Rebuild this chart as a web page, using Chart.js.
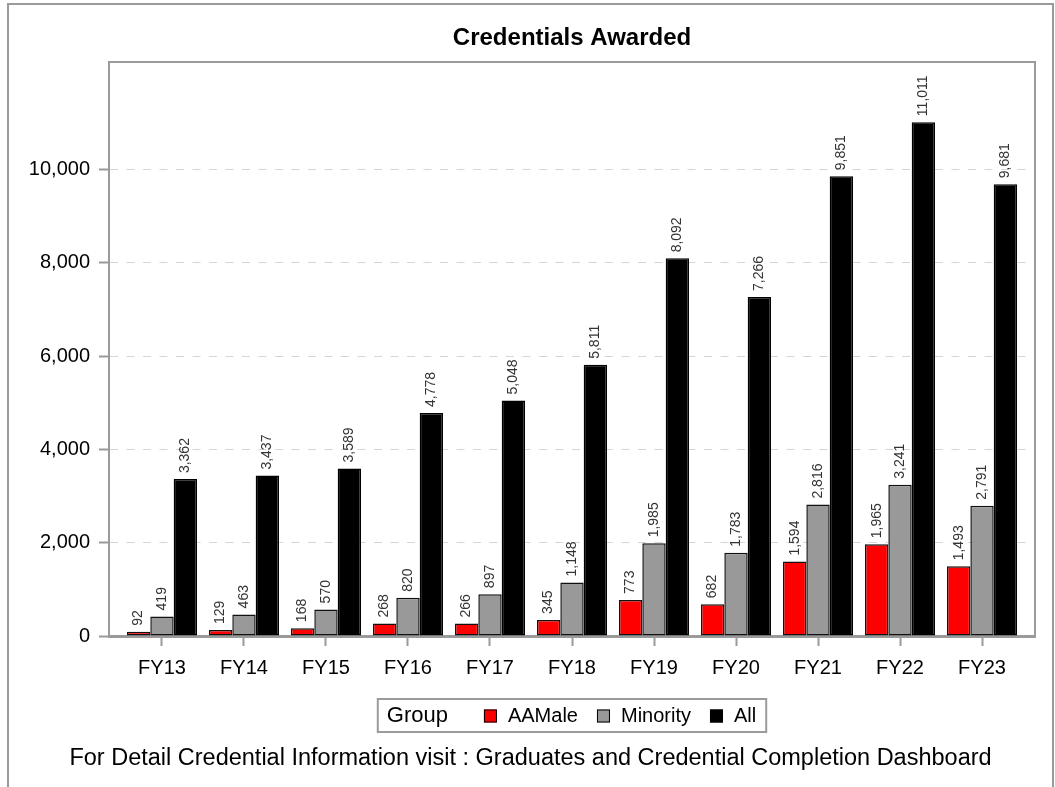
<!DOCTYPE html>
<html lang="en">
<head>
    <meta charset="UTF-8">
    <title>Credentials Awarded</title>
    <script src="https://cdn.jsdelivr.net/npm/chart.js@4.4.1/dist/chart.umd.min.js"></script>
    <style>
        body {
            margin: 0;
            padding: 0;
            background: #ffffff;
        }

        .chart-container {
            position: relative;
            width: 1055px;
            height: 787px;
        }
    </style>
</head>
<body>
<div class="chart-container">
    <canvas id="credentialsChart"></canvas>
</div>

<script>
    const years = ['FY13', 'FY14', 'FY15', 'FY16', 'FY17', 'FY18', 'FY19', 'FY20', 'FY21', 'FY22', 'FY23'];
    const aaMale = [92, 129, 168, 268, 266, 345, 773, 682, 1594, 1965, 1493];
    const minority = [419, 463, 570, 820, 897, 1148, 1985, 1783, 2816, 3241, 2791];
    const allStudents = [3362, 3437, 3589, 4778, 5048, 5811, 8092, 7266, 9851, 11011, 9681];
    const yTickValues = [0, 2000, 4000, 6000, 8000, 10000];

    const chartTitle = 'Credentials Awarded';
    const legendTitle = 'Group';
    const footnote = 'For Detail Credential Information visit : Graduates and Credential Completion Dashboard';

    const FONT = "'Liberation Sans', Arial, sans-serif";
    const FRAME = '#9a9a9a';

    const fmt = v => v.toLocaleString('en-US');
    const toPoints = arr => arr.map((v, i) => ({ x: i, y: v }));

    // white page, outer border, plot frame and title
    const framePlugin = {
        id: 'frame',
        beforeDraw(chart) {
            const { ctx, width, height, chartArea } = chart;
            ctx.save();
            ctx.fillStyle = '#ffffff';
            ctx.fillRect(0, 0, width, height);
            ctx.strokeStyle = FRAME;
            ctx.lineWidth = 2;
            ctx.strokeRect(8, 4, width - 10, height + 20);

            ctx.fillStyle = '#000';
            ctx.font = 'bold 24px ' + FONT;
            ctx.textAlign = 'center';
            ctx.textBaseline = 'middle';
            ctx.fillText(chartTitle, (chartArea.left + chartArea.right) / 2, 38);
            ctx.restore();
        },
        beforeDatasetsDraw(chart) {
            const { ctx, chartArea: a } = chart;
            ctx.save();
            ctx.strokeStyle = FRAME;
            ctx.lineWidth = 2;
            ctx.beginPath();
            ctx.moveTo(a.left, a.top);
            ctx.lineTo(a.right, a.top);
            ctx.lineTo(a.right, a.bottom);
            ctx.stroke();
            ctx.restore();
        }
    };

    // rotated value labels above each bar
    const valueLabels = {
        id: 'valueLabels',
        afterDatasetsDraw(chart) {
            const { ctx } = chart;
            ctx.save();
            ctx.fillStyle = '#333';
            ctx.font = '14px ' + FONT;
            ctx.textAlign = 'left';
            ctx.textBaseline = 'middle';
            chart.data.datasets.forEach((ds, di) => {
                chart.getDatasetMeta(di).data.forEach((bar, i) => {
                    ctx.save();
                    ctx.translate(bar.x, bar.y - 6);
                    ctx.rotate(-Math.PI / 2);
                    ctx.fillText(fmt(ds.data[i].y), 0, 0);
                    ctx.restore();
                });
            });
            ctx.restore();
        }
    };

    // boxed legend and footnote under the axis
    const legendAndFootnote = {
        id: 'legendAndFootnote',
        afterDraw(chart) {
            const { ctx, chartArea, width } = chart;
            const datasets = chart.data.datasets;
            ctx.save();
            ctx.textBaseline = 'middle';
            ctx.textAlign = 'left';

            const titleFont = '22px ' + FONT;
            const itemFont = '20px ' + FONT;
            const sq = 13, padL = 9, padR = 10, titleGap = 36, sqGap = 11, itemGap = 19;

            ctx.font = titleFont;
            const titleW = ctx.measureText(legendTitle).width;
            ctx.font = itemFont;
            const itemW = datasets.map(d => ctx.measureText(d.label).width);
            let total = padL + titleW + titleGap + padR;
            itemW.forEach((w, i) => { total += sq + sqGap + w + (i < itemW.length - 1 ? itemGap : 0); });

            const boxTop = 699, boxH = 33;
            const cy = boxTop + boxH / 2 + 0.5;
            let x = (chartArea.left + chartArea.right) / 2 - total / 2;
            ctx.strokeStyle = FRAME;
            ctx.lineWidth = 2;
            ctx.strokeRect(x, boxTop, total, boxH);

            ctx.fillStyle = '#000';
            ctx.font = titleFont;
            x += padL;
            ctx.fillText(legendTitle, x, cy);
            x += titleW + titleGap;

            ctx.font = itemFont;
            datasets.forEach((d, i) => {
                ctx.fillStyle = d.backgroundColor;
                ctx.fillRect(x, cy - sq / 2, sq, sq);
                ctx.strokeStyle = '#000';
                ctx.lineWidth = 1;
                ctx.strokeRect(x + 0.5, cy - sq / 2 + 0.5, sq - 1, sq - 1);
                x += sq + sqGap;
                ctx.fillStyle = '#000';
                ctx.fillText(d.label, x, cy);
                x += itemW[i] + itemGap;
            });

            ctx.font = '23.5px ' + FONT;
            ctx.textAlign = 'center';
            ctx.fillText(footnote, (8 + width - 2) / 2, 759);
            ctx.restore();
        }
    };

    const barStyle = {
        borderWidth: 1.5,
        borderSkipped: false,
        categoryPercentage: 0.855,
        barPercentage: 1.0
    };

    new Chart(document.getElementById('credentialsChart'), {
        type: 'bar',
        data: {
            datasets: [
                { label: 'AAMale', data: toPoints(aaMale), backgroundColor: '#ff0000', borderColor: '#111', ...barStyle },
                { label: 'Minority', data: toPoints(minority), backgroundColor: '#999999', borderColor: '#111', ...barStyle },
                { label: 'All', data: toPoints(allStudents), backgroundColor: '#000000', borderColor: '#000', ...barStyle }
            ]
        },
        options: {
            responsive: true,
            maintainAspectRatio: false,
            animation: false,
            layout: {
                padding: { left: 0, right: 20, top: 62, bottom: 111 }
            },
            plugins: {
                legend: { display: false },
                title: { display: false },
                tooltip: { enabled: false }
            },
            scales: {
                x: {
                    type: 'linear',
                    offset: false,
                    min: -0.646,
                    max: 10.646,
                    afterFit(scale) { scale.height = 40; },
                    afterBuildTicks(scale) { scale.ticks = years.map((_, i) => ({ value: i })); },
                    grid: {
                        offset: false,
                        drawOnChartArea: false,
                        tickLength: 10,
                        tickColor: FRAME,
                        tickWidth: 2
                    },
                    border: { color: FRAME, width: 3 },
                    ticks: {
                        autoSkip: false,
                        maxRotation: 0,
                        padding: 10,
                        color: '#000',
                        font: { family: FONT, size: 20 },
                        callback: v => years[v]
                    }
                },
                y: {
                    min: 0,
                    max: 12300,
                    afterFit(scale) { scale.width = 109; },
                    afterBuildTicks(scale) { scale.ticks = yTickValues.map(v => ({ value: v })); },
                    grid: {
                        color: '#d6d6d6',
                        lineWidth: 1,
                        tickLength: 10,
                        tickColor: FRAME,
                        tickWidth: 2,
                        tickBorderDash: []
                    },
                    border: { color: FRAME, width: 2, dash: [8, 8.5] },
                    ticks: {
                        padding: 9,
                        color: '#000',
                        font: { family: FONT, size: 20 },
                        callback: v => fmt(v)
                    }
                }
            }
        },
        plugins: [framePlugin, valueLabels, legendAndFootnote]
    });
</script>
</body>
</html>
